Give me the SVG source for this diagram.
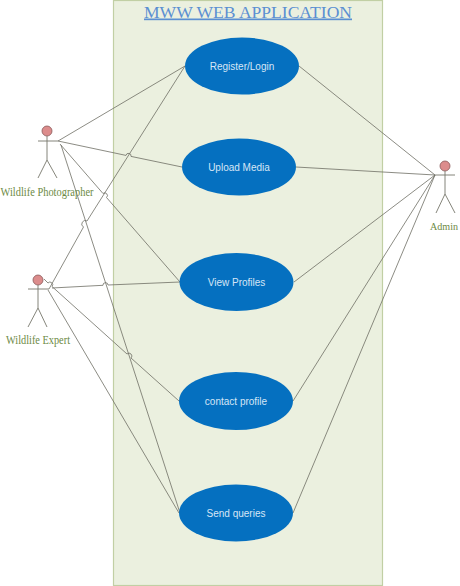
<svg xmlns="http://www.w3.org/2000/svg" width="460" height="586" viewBox="0 0 460 586">
<style>
.conn{fill:none;stroke:#6f6f64;stroke-width:.8}
.uc{fill:#0570c0}
.uct{font-family:"Liberation Sans",Arial,sans-serif;font-size:10px;fill:#d6e6f6;text-anchor:middle}
.lab{font-family:"Liberation Serif","Times New Roman",serif;font-size:11.5px;fill:#6d8a45}
.head{fill:#dc8c8c;stroke:#8a5a5a;stroke-width:.8}
.fig{fill:none;stroke:#77776c;stroke-width:.9}
</style>
<rect id="boundary" x="113.5" y="0.5" width="269" height="585" fill="#ebf0df" stroke="#c1cfa4" stroke-width="1.2"/>
<text id="title" x="144" y="17.500" font-family="'Liberation Serif','Times New Roman',serif" font-size="17px" fill="#5b8fd2" text-decoration="underline" textLength="208" lengthAdjust="spacingAndGlyphs">MWW WEB APPLICATION</text>
<g id="connectors">
<path class="conn" d="M58 141L185 66"/>
<path class="conn" d="M58 141L126 155.4A2.5 2.5 0 0 1 131 156.4L182 167"/>
<path class="conn" d="M60 144L103 193.5A2.5 2.5 0 0 1 106.5 197.5L180 282"/>
<path class="conn" d="M61 145L180 513"/>
<path class="conn" d="M49 289L83.5 227A2.5 2.5 0 0 1 87 221L185 66"/>
<path class="conn" d="M52 288L103 285.3A2.5 2.5 0 0 1 108 285L180 282"/>
<path class="conn" d="M44 279L48 283A2.5 2.5 0 0 1 52 286.5L127 354A2.5 2.5 0 0 1 131 358L179 401"/>
<path class="conn" d="M48 290L179 513"/>
<path class="conn" d="M435 175L299 66"/>
<path class="conn" d="M435 175L296 167"/>
<path class="conn" d="M435 175L294 282"/>
<path class="conn" d="M435 175L293 401"/>
<path class="conn" d="M435 175L293 513"/>
</g>
<g id="register"><ellipse class="uc" cx="242" cy="66" rx="57" ry="28.5"/><text class="uct" x="242" y="69.500">Register/Login</text></g>
<g id="upload"><ellipse class="uc" cx="239" cy="167" rx="57" ry="28.5"/><text class="uct" x="239" y="170.500">Upload Media</text></g>
<g id="view"><ellipse class="uc" cx="236.500" cy="282" rx="57" ry="29"/><text class="uct" x="236.500" y="285.500">View Profiles</text></g>
<g id="contact"><ellipse class="uc" cx="236" cy="401" rx="57" ry="29"/><text class="uct" x="236" y="404.500">contact profile</text></g>
<g id="send"><ellipse class="uc" cx="236" cy="513" rx="57" ry="28.500"/><text class="uct" x="236" y="516.500">Send queries</text></g>
<g id="photographer"><circle class="head" cx="47" cy="131" r="5"/><path class="fig" d="M38 141H58M47 136V160L38 178M47 160L57 178"/><text class="lab" x="0.500" y="196" textLength="93" lengthAdjust="spacingAndGlyphs">Wildlife Photographer</text></g>
<g id="expert"><circle class="head" cx="38" cy="280" r="5"/><path class="fig" d="M28 289H49M38 285V308L28 327M38 308L47 327"/><text class="lab" x="6" y="344" textLength="64" lengthAdjust="spacingAndGlyphs">Wildlife Expert</text></g>
<g id="admin"><circle class="head" cx="445" cy="166" r="5"/><path class="fig" d="M435 175H455M445 171V194L436 213M445 194L455 213"/><text class="lab" x="430" y="230" font-size="11px" style="font-size:11px" textLength="28" lengthAdjust="spacingAndGlyphs">Admin</text></g>
</svg>
